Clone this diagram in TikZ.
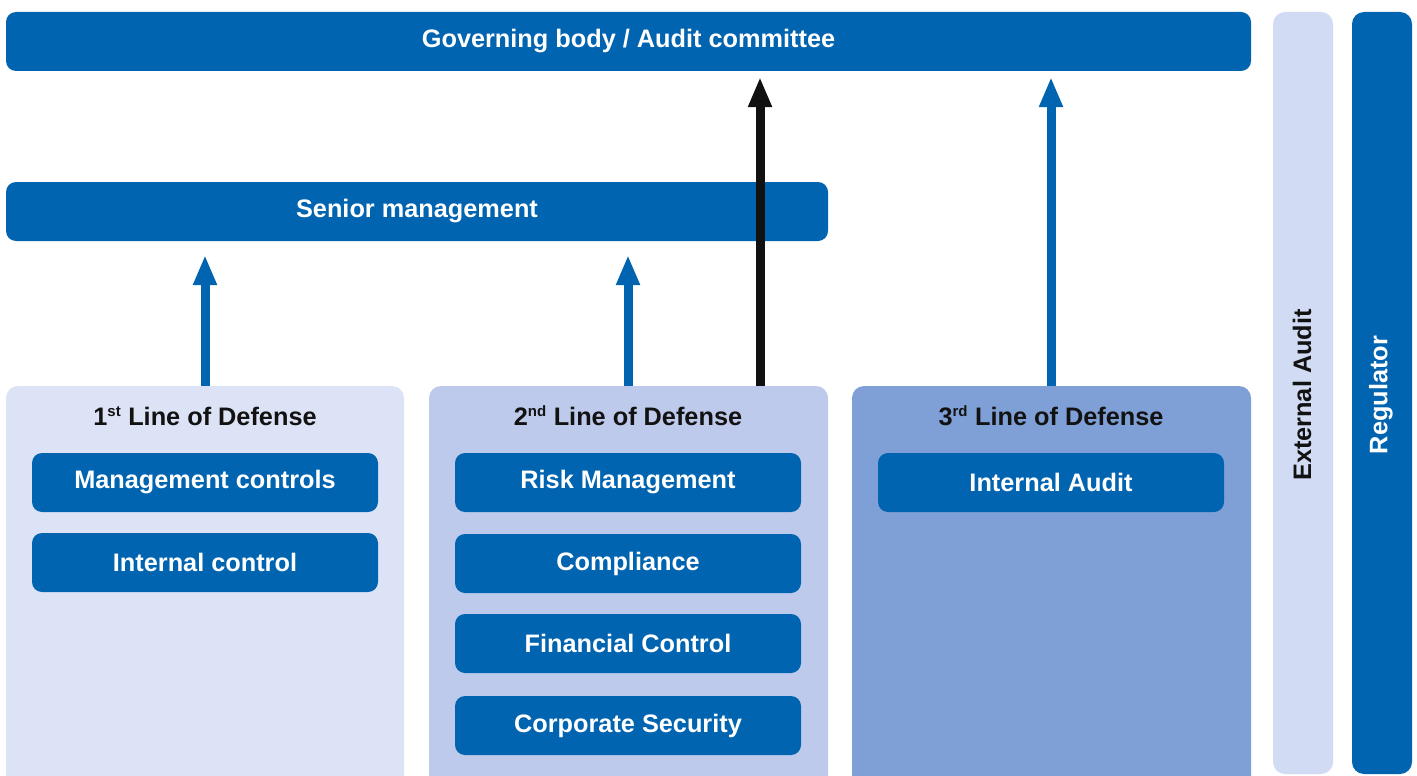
\documentclass[tikz,border=0pt]{standalone}
\usepackage{fontspec}
\setmainfont{Liberation Sans}
\usetikzlibrary{arrows.meta}
\definecolor{dblue}{HTML}{0064B0}
\definecolor{lineA}{HTML}{DDE3F6}
\definecolor{lineB}{HTML}{BECAEC}
\definecolor{lineC}{HTML}{7FA0D6}
\definecolor{extaud}{HTML}{D2DBF4}
\definecolor{arrowblack}{HTML}{111111}
\begin{document}
\begin{tikzpicture}[x=1pt,y=-1pt,
  bar/.style={fill=dblue,draw=none,rounded corners=10pt},
  unit/.style={fill=dblue,draw=none,rounded corners=10pt,minimum width=346pt,minimum height=59pt,
    inner sep=0pt,text=white,font=\fontsize{25.3}{30}\selectfont\bfseries},
  column/.style={draw=none,rounded corners=12pt},
  head/.style={font=\fontsize{25.3}{30}\selectfont\bfseries,text=black!93},
  bartext/.style={text=white,font=\fontsize{25.3}{30}\selectfont\bfseries},
  uparrow/.style={line width=9pt,-{Triangle[width=22pt,length=30pt]}},
]
\newcommand{\supx}[1]{\textsuperscript{\fontsize{15}{15}\selectfont #1}}
\useasboundingbox (0,0) rectangle (1417,776);
\fill[white] (0,0) rectangle (1417,776);

% top bars
\fill[bar] (6,12) rectangle (1251,71);
\node[bartext] (gov) at (628.5,41) {Governing body / Audit committee};
\fill[bar] (6,182) rectangle (828,241);
\node[bartext] (senior) at (417,211) {Senior management};

% side bars
\fill[extaud,rounded corners=12pt] (1273,12) rectangle (1333,774);
\node[rotate=90,font=\fontsize{25.3}{30}\selectfont\bfseries,text=black!93] (ext) at (1302,395) {External Audit};
\fill[dblue,rounded corners=12pt] (1352,12) rectangle (1412,774);
\node[rotate=90,bartext] (reg) at (1381,395) {Regulator};

% three lines of defense
\fill[column,fill=lineA] (6,386) rectangle (404,800);
\fill[column,fill=lineB] (429,386) rectangle (828,800);
\fill[column,fill=lineC] (852,386) rectangle (1251,800);
\coordinate (c1) at (205,386);
\coordinate (c2) at (628,386);
\coordinate (c2b) at (760,386);
\coordinate (c3) at (1051,386);

\node[head] (h1) at (205,416) {1\supx{st} Line of Defense};
\node[head] (h2) at (628,416) {2\supx{nd} Line of Defense};
\node[head] (h3) at (1051,416) {3\supx{rd} Line of Defense};

\node[unit] (mc) at (205,482.5) {Management controls};
\node[unit] (ic) at (205,562.5) {Internal control};
\node[unit] (rm) at (628,482.5) {Risk Management};
\node[unit] (co) at (628,563.5) {Compliance};
\node[unit] (fc) at (628,643.5) {Financial Control};
\node[unit] (cs) at (628,725.5) {Corporate Security};
\node[unit] (ia) at (1051,482.5) {Internal Audit};

% reporting arrows
\coordinate (s1) at (205,241);
\coordinate (s2) at (628,241);
\coordinate (g1) at (760,71);
\coordinate (g2) at (1051,71);
\draw[uparrow,draw=dblue,shorten >=14pt] (c1) -- (s1);
\draw[uparrow,draw=dblue,shorten >=14pt] (c2) -- (s2);
\draw[uparrow,draw=arrowblack,shorten >=6pt] (c2b) -- (g1);
\draw[uparrow,draw=dblue,shorten >=6pt] (c3) -- (g2);
\end{tikzpicture}
\end{document}
